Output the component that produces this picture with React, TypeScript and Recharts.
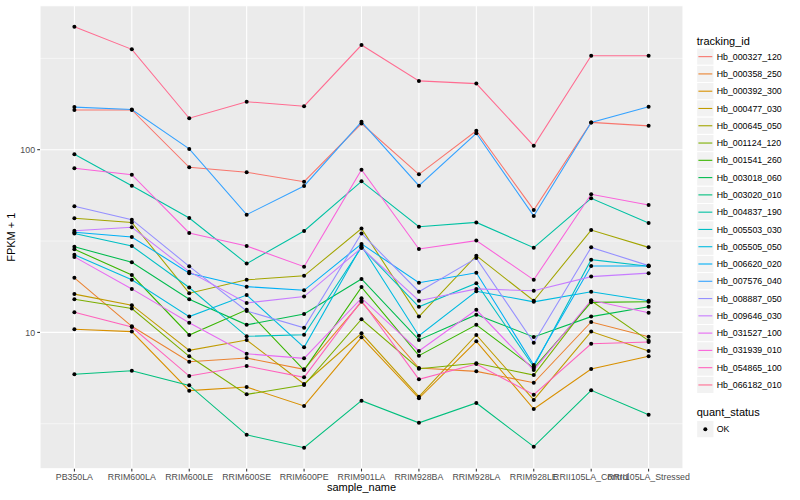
import React from 'react';
import { CartesianGrid, Label, Line, LineChart, XAxis, YAxis } from 'recharts';

// --- data (FPKM + 1, log scale) ---
const samples = [
  'PB350LA', 'RRIM600LA', 'RRIM600LE', 'RRIM600SE', 'RRIM600PE', 'RRIM901LA',
  'RRIM928BA', 'RRIM928LA', 'RRIM928LE', 'RRII105LA_Control', 'RRII105LA_Stressed',
];

const trackingIds = [
  'Hb_000327_120', 'Hb_000358_250', 'Hb_000392_300', 'Hb_000477_030', 'Hb_000645_050',
  'Hb_001124_120', 'Hb_001541_260', 'Hb_003018_060', 'Hb_003020_010', 'Hb_004837_190',
  'Hb_005503_030', 'Hb_005505_050', 'Hb_006620_020', 'Hb_007576_040', 'Hb_008887_050',
  'Hb_009646_030', 'Hb_031527_100', 'Hb_031939_010', 'Hb_054865_100', 'Hb_066182_010',
];

const hb000327_120 = [165, 165, 80.1, 75.2, 66.8, 139, 73.3, 127, 46.8, 141, 135];
const hb000358_250 = [19.9, 10.8, 6.91, 7.24, 6.28, 14.7, 6.38, 6.12, 5.3, 11.4, 9.47];
const hb000392_300 = [10.4, 10.1, 4.8, 5.02, 3.96, 9.4, 4.36, 8.94, 3.81, 6.31, 7.4];
const hb000477_030 = [16.2, 14.1, 7.98, 9.09, 5.22, 9.89, 4.45, 9.68, 4.27, 10.1, 7.91];
const hb000645_050 = [42.1, 40.0, 16.4, 19.4, 20.4, 37.0, 12.2, 26.3, 14.9, 36.3, 29.2];
const hb001124_120 = [15.2, 13.5, 7.4, 4.58, 5.15, 11.8, 6.33, 6.78, 5.84, 14.9, 9.01];
const hb001541_260 = [28.5, 20.6, 9.68, 13.3, 6.22, 17.7, 7.46, 11.0, 6.38, 14.6, 14.7];
const hb003018_060 = [29.4, 24.2, 15.2, 11.0, 12.6, 19.6, 9.09, 12.5, 9.44, 12.2, 13.8];
const hb003020_010 = [5.9, 6.17, 5.13, 2.75, 2.34, 4.23, 3.2, 4.11, 2.37, 4.82, 3.54];
const hb004837_190 = [94.4, 63.5, 42.3, 23.8, 35.9, 67.1, 37.9, 40.0, 29.1, 54.2, 39.7];
const hb005503_030 = [34.8, 29.7, 17.6, 9.52, 9.71, 29.2, 13.8, 18.6, 6.49, 25.0, 23.0];
const hb005505_050 = [26.6, 19.4, 12.2, 16.0, 8.29, 29.7, 9.59, 16.8, 14.7, 16.7, 14.9];
const hb006620_020 = [35.3, 33.3, 21.1, 17.8, 17.0, 30.5, 18.7, 21.2, 6.63, 23.1, 23.1];
const hb007576_040 = [171, 166, 101, 44.1, 63.3, 142, 63.5, 123, 43.4, 141, 172];
const hb008887_050 = [49.0, 41.4, 23.0, 13.1, 10.6, 34.8, 16.7, 25.5, 8.78, 29.2, 23.2];
const hb009646_030 = [36.0, 37.6, 21.5, 14.5, 15.7, 29.0, 14.9, 17.3, 16.9, 20.2, 21.1];
const hb031527_100 = [25.9, 17.3, 11.3, 7.64, 7.21, 15.4, 7.91, 13.3, 6.22, 15.0, 12.8];
const hb031939_010 = [79.1, 73.0, 35.0, 29.7, 22.9, 77.7, 28.6, 31.8, 19.4, 57.0, 49.8];
const hb054865_100 = [12.9, 10.7, 5.77, 6.55, 5.68, 14.9, 5.54, 6.71, 4.56, 8.67, 8.86];
const hb066182_010 = [471, 354, 148.6, 183, 173, 374, 238, 230, 105, 327, 327];

const seriesValues = [
  hb000327_120, hb000358_250, hb000392_300, hb000477_030, hb000645_050,
  hb001124_120, hb001541_260, hb003018_060, hb003020_010, hb004837_190,
  hb005503_030, hb005505_050, hb006620_020, hb007576_040, hb008887_050,
  hb009646_030, hb031527_100, hb031939_010, hb054865_100, hb066182_010,
];

const quantStatus = ['OK'];

const yTicks = [10, 100];
const yMinorTicks = [3.162, 31.62, 316.2];
const yDomain = [1.795, 613.8];

// ggplot hue palette, 20 levels
const palette = [
  '#F8766D', '#EA8331', '#D89000', '#C09B00', '#A3A500', '#7CAE00', '#39B600',
  '#00BB4E', '#00BF7D', '#00C1A3', '#00BFC4', '#00BAE0', '#00B0F6', '#35A2FF',
  '#9590FF', '#C77CFF', '#E76BF3', '#FA62DB', '#FF62BC', '#FF6C91',
];

const FONT = '"Liberation Sans", Arial, Helvetica, sans-serif';

const rows = samples.map((s, i) => {
  const row: any = { sample: s };
  trackingIds.forEach((id, k) => { row[id] = seriesValues[k][i]; });
  return row;
});

// --- legend (drawn like ggplot's guide on the right) ---
const KEY = 17.28;

const GgLegend = () => {
  const top = 48;
  const qsTop = 402.5;
  return (
    <svg width={110} height={460} style={{ position: 'absolute', left: 690, top: 0 }}>
      <text x={6.7} y={44.5} fontSize={11} fontFamily={FONT} fill="#000">tracking_id</text>
      {trackingIds.map((id, i) => {
        const y = top + i * KEY;
        return (
          <g key={id}>
            <rect x={6.7} y={y} width={KEY} height={KEY} fill="#F2F2F2" stroke="#fff" strokeWidth={1} />
            <line x1={8.4} x2={22.3} y1={y + KEY / 2} y2={y + KEY / 2} stroke={palette[i]} strokeWidth={1.1} />
            <text x={26.7} y={y + KEY / 2} dy="0.35em" fontSize={8.8} fontFamily={FONT} fill="#000">{id}</text>
          </g>
        );
      })}
      <text x={6.7} y={qsTop + 13.5} fontSize={11} fontFamily={FONT} fill="#000">quant_status</text>
      {quantStatus.map((q, i) => {
        const y = qsTop + 18 + i * KEY;
        return (
          <g key={q}>
            <rect x={6.7} y={y} width={KEY} height={KEY} fill="#F2F2F2" stroke="#fff" strokeWidth={1} />
            <circle cx={6.7 + KEY / 2} cy={y + KEY / 2} r={2} fill="#000" />
            <text x={26.7} y={y + KEY / 2} dy="0.35em" fontSize={8.8} fontFamily={FONT} fill="#000">{q}</text>
          </g>
        );
      })}
    </svg>
  );
};

export default function App() {
  return (
    <div style={{ position: 'absolute', left: 0, top: 0, width: 800, height: 500, background: '#fff' }}>
      <LineChart
        width={800}
        height={500}
        data={rows}
        margin={{ top: 5.7, right: 117, bottom: 0, left: 0 }}
      >
        <CartesianGrid fill="#EBEBEB" fillOpacity={1} stroke="#FFFFFF" strokeWidth={1.07} />
        <CartesianGrid vertical={false} horizontalValues={yMinorTicks} stroke="#FFFFFF" strokeWidth={0.53} />
        <XAxis
          dataKey="sample"
          interval={0}
          padding={{ left: 34.4, right: 34.4 }}
          height={31.3}
          axisLine={false}
          tickSize={2.75}
          tickMargin={2.2}
          tickLine={{ stroke: '#333333', strokeWidth: 1.07 }}
          tick={{ fill: '#4D4D4D', fontSize: 8.8, fontFamily: FONT }}
        >
          <Label
            content={(p: any) => {
              const vb = p.viewBox;
              return (
                <text x={vb.x + vb.width / 2} y={491} textAnchor="middle" fontSize={11} fontFamily={FONT} fill="#000">
                  sample_name
                </text>
              );
            }}
          />
        </XAxis>
        <YAxis
          scale="log"
          domain={yDomain}
          allowDataOverflow
          ticks={yTicks}
          width={40}
          axisLine={false}
          tickSize={2.75}
          tickMargin={2.2}
          tickLine={{ stroke: '#333333', strokeWidth: 1.07 }}
          tick={{ fill: '#4D4D4D', fontSize: 8.8, fontFamily: FONT }}
        >
          <Label
            content={(p: any) => {
              const vb = p.viewBox;
              const cy = vb.y + vb.height / 2;
              return (
                <text
                  x={11}
                  y={cy}
                  transform={`rotate(-90, 11, ${cy})`}
                  textAnchor="middle"
                  dominantBaseline="central"
                  fontSize={11}
                  fontFamily={FONT}
                  fill="#000"
                >
                  FPKM + 1
                </text>
              );
            }}
          />
        </YAxis>
        {trackingIds.map((id, i) => (
          <Line
            key={id}
            dataKey={id}
            type="linear"
            stroke={palette[i]}
            strokeWidth={1.07}
            dot={false}
            activeDot={false}
            isAnimationActive={false}
          />
        ))}
        {trackingIds.map((id) => (
          <Line
            key={`pt-${id}`}
            dataKey={id}
            type="linear"
            stroke="none"
            dot={{ r: 2, fill: '#000', stroke: 'none' }}
            activeDot={false}
            legendType="none"
            isAnimationActive={false}
          />
        ))}
      </LineChart>
      <GgLegend />
    </div>
  );
}
